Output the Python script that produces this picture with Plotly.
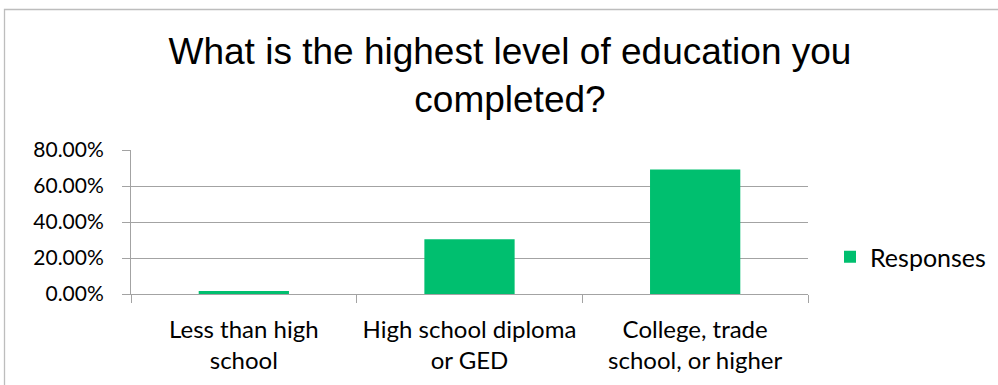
import plotly.graph_objects as go

# Survey question and answer data
title_text = "What is the highest level of education you<br>completed?"
categories = [
    "Less than high<br>school",
    "High school diploma<br>or GED",
    "College, trade<br>school, or higher",
]
responses = [0.016, 0.304, 0.691]
series_name = "Responses"
y_ticks = [0.0, 0.2, 0.4, 0.6, 0.8]

W, H = 998, 385
M_L, M_R, M_T, M_B = 131, 190, 150, 91
PW, PH = W - M_L - M_R, H - M_T - M_B

GREEN = "#00BF6F"
GRID = "#a3a3a3"
FAMILY = "Lato, 'Open Sans', sans-serif"
Y_TICK_FONT = dict(family=FAMILY, size=21, color="#000000")
X_TICK_FONT = dict(family=FAMILY, size=24, color="#000000")
LEGEND_FONT = dict(family=FAMILY, size=25, color="#000000")

fig = go.Figure()
fig.add_trace(go.Bar(
    x=categories,
    y=responses,
    name=series_name,
    marker=dict(color=GREEN, line=dict(width=0)),
    showlegend=True,
))


def px_x(px):
    return (px - M_L) / PW


def px_y(py):
    return (H - M_B - py) / PH


# Outer chart frame (extends past the right and bottom edges)
fig.add_shape(
    type="rect", xref="paper", yref="paper",
    x0=px_x(4.5), x1=px_x(1010), y0=px_y(400), y1=px_y(9.5),
    line=dict(color="#bdbdbd", width=1.3), fillcolor="rgba(0,0,0,0)",
    layer="below",
)

fig.update_layout(
    width=W, height=H,
    margin=dict(l=M_L, r=M_R, t=M_T, b=M_B, pad=0, autoexpand=False),
    paper_bgcolor="white", plot_bgcolor="white",
    title=dict(
        text=title_text,
        font=dict(family="Liberation Sans, Arial, sans-serif", size=37, color="#000000"),
        x=0.511, xref="container", xanchor="center",
        y=1 - 64 / H, yref="container", yanchor="middle",
    ),
    bargap=0.6,
    showlegend=True,
    legend=dict(
        x=px_x(830), xanchor="left",
        y=px_y(257), yanchor="middle",
        font=LEGEND_FONT,
        bgcolor="rgba(0,0,0,0)",
    ),
    xaxis=dict(
        type="category",
        automargin=False,
        showline=True, linecolor=GRID, linewidth=1,
        ticks="outside", ticklen=8, tickcolor=GRID, tickwidth=1,
        tickson="boundaries",
        showgrid=False,
        tickfont=X_TICK_FONT,
        ticklabelstandoff=14,
    ),
    yaxis=dict(
        automargin=False,
        range=[0, 0.8],
        tickvals=y_ticks,
        tickformat=".2%",
        showline=True, linecolor=GRID, linewidth=1,
        ticks="outside", ticklen=8, tickcolor=GRID, tickwidth=1,
        showgrid=True, gridcolor=GRID, gridwidth=1,
        zeroline=False,
        tickfont=Y_TICK_FONT,
        ticklabelstandoff=14,
    ),
)

fig.write_html("out.html")
